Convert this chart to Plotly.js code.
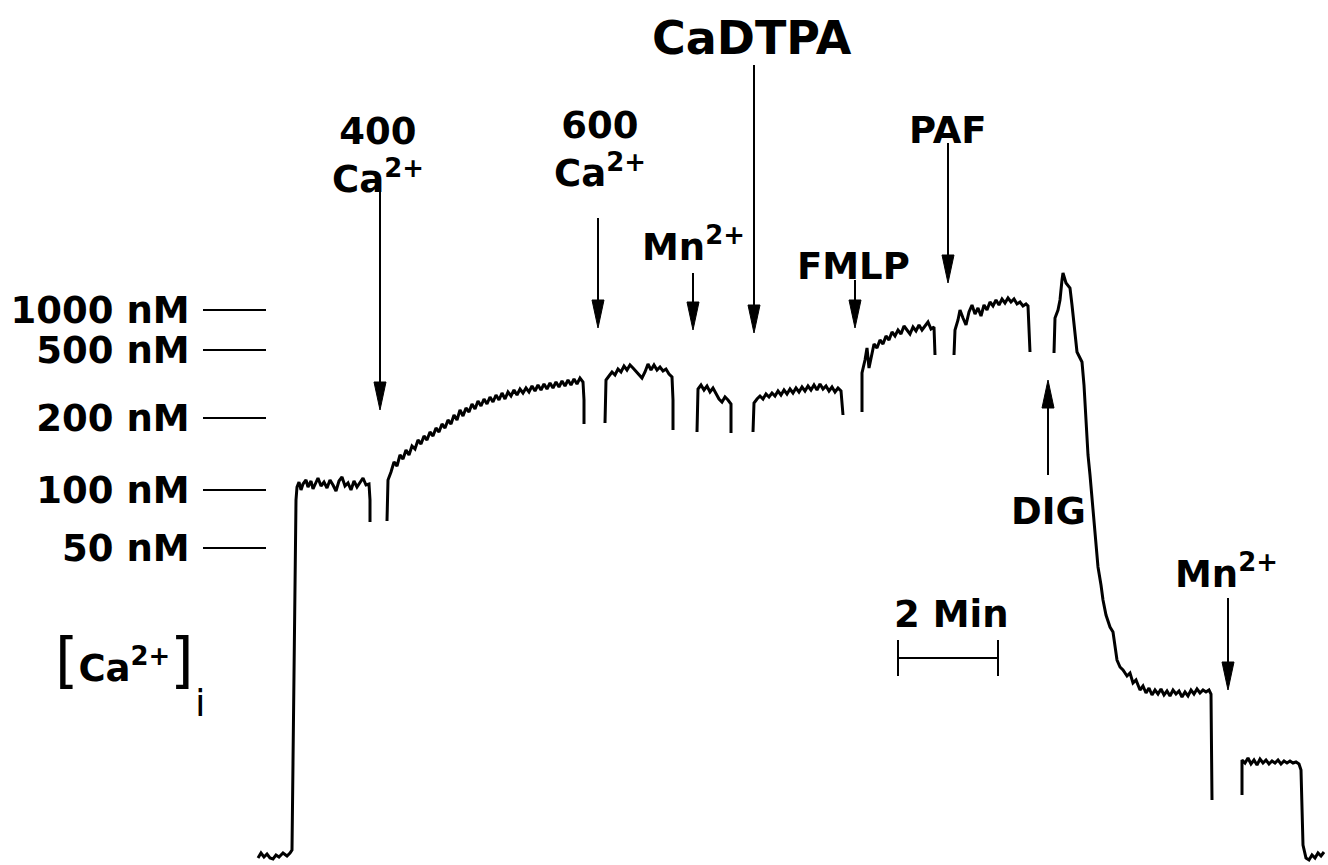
<!DOCTYPE html>
<html><head><meta charset="utf-8">
<script src="https://cdn.plot.ly/plotly-3.0.1.min.js"></script>
<style>html,body{margin:0;padding:0;background:#fff}#chart{width:1328px;height:865px}</style>
</head><body><div id="chart"></div>
<script>
// time in minutes, signal in arbitrary fluorescence units (null = pen lifted)
const timeMin = [
 0,0.06,0.12,0.18,0.24,0.30,0.36,0.42,0.50,0.58,0.64,0.68,0.76,0.78,0.82,0.86,0.90,0.96,1.00,1.06,1.10,1.16,1.20,1.26,1.32,1.38,1.44,1.50,1.56,1.62,1.68,1.74,1.80,1.86,1.92,1.98,2.04,2.10,2.16,2.22,2.24,2.24, null,
 2.58,2.60,2.66,2.72,2.78,2.84,2.90,2.96,3.02,3.08,3.14,3.20,3.26,3.32,3.38,3.44,3.50,3.56,3.62,3.68,3.74,3.80,3.86,3.92,3.98,4.04,4.10,4.16,4.22,4.28,4.34,4.40,4.46,4.52,4.58,4.64,4.70,4.76,4.82,4.88,4.94,5.00,5.06,5.12,5.18,5.24,5.30,5.36,5.42,5.48,5.54,5.60,5.66,5.72,5.78,5.84,5.90,5.96,6.02,6.08,6.14,6.20,6.26,6.32,6.38,6.44,6.50,6.52,6.52, null,
 6.94,6.96,7.02,7.08,7.14,7.20,7.26,7.32,7.38,7.44,7.50,7.56,7.62,7.68,7.74,7.80,7.86,7.92,7.98,8.04,8.10,8.16,8.22,8.28,8.30,8.30, null,
 8.78,8.80,8.86,8.92,8.98,9.04,9.10,9.16,9.22,9.28,9.34,9.40,9.46,9.46, null,
 9.90,9.92,9.98,10.04,10.10,10.16,10.22,10.28,10.34,10.40,10.46,10.52,10.58,10.64,10.70,10.76,10.82,10.88,10.94,11.00,11.06,11.12,11.18,11.24,11.30,11.36,11.42,11.48,11.54,11.60,11.66,11.70, null,
 12.08,12.08,12.14,12.18,12.22,12.28,12.32,12.38,12.44,12.50,12.56,12.62,12.68,12.74,12.80,12.86,12.92,12.98,13.04,13.10,13.16,13.22,13.28,13.34,13.40,13.46,13.52,13.54, null,
 13.92,13.94,14.00,14.04,14.10,14.16,14.22,14.28,14.34,14.40,14.46,14.52,14.58,14.64,14.70,14.76,14.82,14.88,14.94,15.00,15.06,15.12,15.18,15.24,15.30,15.36,15.40,15.42,15.44, null,
 15.92,15.94,16.00,16.04,16.08,16.10,16.16,16.20,16.24,16.28,16.34,16.38,16.44,16.48,16.52,16.56,16.60,16.64,16.68,16.74,16.80,16.86,16.90,16.96,17.04,17.10,17.14,17.18,17.24,17.30,17.38,17.44,17.50,17.56,17.64,17.70,17.76,17.82,17.88,17.94,18.00,18.06,18.12,18.18,18.24,18.30,18.36,18.42,18.48,18.54,18.60,18.66,18.72,18.78,18.84,18.90,18.96,19.02,19.06,19.08, null,
 19.68,19.68,19.74,19.80,19.86,19.92,19.98,20.04,20.10,20.16,20.22,20.28,20.34,20.40,20.46,20.52,20.58,20.64,20.70,20.76,20.82,20.86,20.90,20.96,21.02,21.08,21.14,21.20,21.26,21.32
];
const signal = [
 7,12,8,11,7,6,10,8,12,9,12,15,365,378,383,375,381,385,378,384,376,382,387,379,383,377,385,380,374,384,388,379,382,375,384,378,382,387,380,381,365,343, null,
 344,385,393,403,399,410,406,415,410,419,416,425,421,429,425,433,429,437,433,441,437,445,441,450,445,455,449,457,453,461,456,464,459,466,461,468,463,470,465,472,466,473,469,475,470,476,472,477,473,479,474,480,475,481,476,482,477,483,478,484,479,485,480,486,481,487,483,465,441, null,
 442,485,489,493,490,496,493,499,495,500,497,494,491,487,493,501,495,500,495,498,494,496,491,488,465,435, null,
 433,476,480,475,479,473,477,471,466,463,468,465,461,432, null,
 433,462,466,469,466,471,468,472,469,474,470,475,471,476,472,477,473,478,474,479,475,480,475,481,476,479,474,478,473,477,474,450, null,
 453,492,505,517,497,513,521,517,525,521,529,525,533,529,535,531,539,535,531,538,534,540,535,539,543,536,538,510, null,
 510,535,545,555,547,540,553,560,551,557,549,560,555,563,559,565,560,566,562,567,563,566,561,563,559,561,559,535,513, null,
 512,547,555,565,585,592,582,580,577,560,535,513,507,503,480,445,410,390,365,332,298,280,265,250,238,233,220,205,198,195,189,192,182,185,175,179,172,177,170,175,171,176,170,174,169,175,171,174,168,173,169,175,171,176,172,175,173,175,171,65, null,
 70,105,102,107,101,105,100,106,102,105,101,104,102,105,101,104,102,104,102,103,101,95,20,7,5,10,7,12,9,13
];

// calibration ticks
const tickVals = [555, 515, 447, 375, 317];
const tickText = ["1000 nM", "500 nM", "200 nM", "100 nM", "50 nM"];

// additions
const eventNames = ["400<br>Ca<sup>2+</sup>", "600<br>Ca<sup>2+</sup>", "Mn<sup>2+</sup>", "CaDTPA", "FMLP", "PAF", "DIG", "Mn<sup>2+</sup>"];
const eventTimes = [2.44, 6.80, 8.70, 9.92, 11.94, 13.80, 15.80, 19.40];

// scale bar
const scaleBarStart = 12.8;
const scaleBarMinutes = 2;

// ---------- layout helpers (positions / styles) ----------
const FONT = "DejaVu Sans";
const FS = 37;
const arrowFrom = [675, 647, 592, 800, 585, 722, 390, 267];
const arrowTo   = [455, 537, 535, 532, 537, 582, 485, 175];
const labelY    = [710, 716, 621, 827, 599, 735, 354, 294];
const labelDx   = [-0.04, 0.04, 0, -0.04, -0.04, 0, 0, -0.04];
const labelSize = [FS, FS, FS, 46, FS, FS, FS, FS];
const headLen = 28, headHalf = 0.12;

const shapes = [];
const annotations = [];
eventTimes.forEach((t, i) => {
  const from = arrowFrom[i], to = arrowTo[i];
  const dir = Math.sign(to - from);
  const base = to - dir * headLen;
  shapes.push({type: 'line', xref: 'x', yref: 'y', x0: t, x1: t, y0: from, y1: base + dir * 2,
    line: {color: '#000', width: 2}});
  shapes.push({type: 'path', xref: 'x', yref: 'y',
    path: `M ${t - headHalf},${base} L ${t},${to} L ${t + headHalf},${base} Z`,
    fillcolor: '#000', line: {color: '#000', width: 1}});
  annotations.push({xref: 'x', yref: 'y', x: t + labelDx[i], y: labelY[i], text: eventNames[i], showarrow: false,
    xanchor: 'center', yanchor: 'middle', align: 'center',
    font: {family: FONT, size: labelSize[i], color: '#000', weight: 'bold'}});
});

// scale bar
const sbY = 207, sbTick = 18;
shapes.push({type: 'line', xref: 'x', yref: 'y', x0: scaleBarStart, x1: scaleBarStart + scaleBarMinutes, y0: sbY, y1: sbY, line: {color: '#000', width: 2}});
shapes.push({type: 'line', xref: 'x', yref: 'y', x0: scaleBarStart, x1: scaleBarStart, y0: sbY - sbTick, y1: sbY + sbTick, line: {color: '#000', width: 2}});
shapes.push({type: 'line', xref: 'x', yref: 'y', x0: scaleBarStart + scaleBarMinutes, x1: scaleBarStart + scaleBarMinutes, y0: sbY - sbTick, y1: sbY + sbTick, line: {color: '#000', width: 2}});
annotations.push({xref: 'x', yref: 'y', x: scaleBarStart + scaleBarMinutes / 2 + 0.06, y: 251, text: scaleBarMinutes + ' Min',
  showarrow: false, xanchor: 'center', yanchor: 'middle', font: {family: FONT, size: FS, color: '#000', weight: 'bold'}});

// y label [Ca2+]i
annotations.push({xref: 'x', yref: 'y', x: -2.68, y: 205, showarrow: false, xanchor: 'center', yanchor: 'middle',
  text: '<span style="font-size:60px;font-weight:normal">[</span>Ca<sup>2+</sup><span style="font-size:60px;font-weight:normal">]</span>',
  font: {family: FONT, size: FS, color: '#000', weight: 'bold'}});
annotations.push({xref: 'x', yref: 'y', x: -1.16, y: 162, showarrow: false, xanchor: 'center', yanchor: 'middle',
  text: 'i', font: {family: FONT, size: 38, color: '#000'}});

const trace = {x: timeMin, y: signal, type: 'scatter', mode: 'lines', connectgaps: false,
  line: {color: '#000', width: 3}, hoverinfo: 'skip'};

const layout = {
  width: 1328, height: 865,
  margin: {l: 0, r: 0, t: 0, b: 0},
  paper_bgcolor: '#fff', plot_bgcolor: '#fff',
  showlegend: false,
  xaxis: {range: [-5.16, 21.4], visible: false, fixedrange: true},
  yaxis: {range: [0, 865], anchor: 'free', position: 266 / 1328, side: 'left',
    showgrid: false, zeroline: false, showline: false,
    ticks: 'outside', ticklen: 63, tickwidth: 2, tickcolor: '#000',
    tickvals: tickVals, ticktext: tickText, ticklabelstandoff: 6,
    tickfont: {family: FONT, size: FS, color: '#000', weight: 'bold'}, fixedrange: true},
  shapes: shapes,
  annotations: annotations
};

Plotly.newPlot('chart', [trace], layout, {staticPlot: true, displayModeBar: false});
</script>
</body></html>
